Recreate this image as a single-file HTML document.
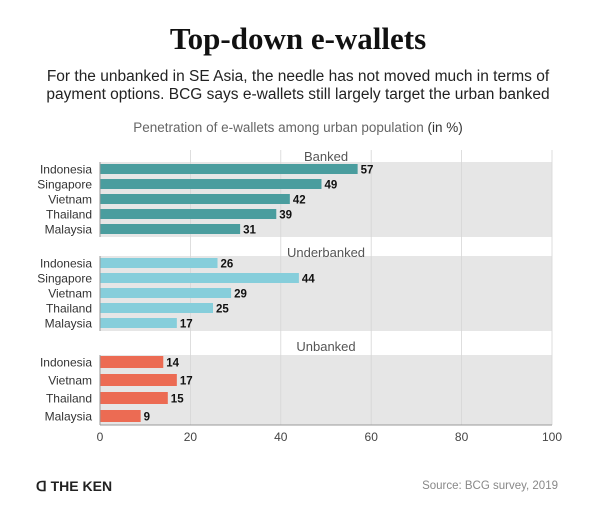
<!DOCTYPE html>
<html><head><meta charset="utf-8"><style>
body{margin:0;width:600px;height:520px;background:#fff;font-family:"Liberation Sans",sans-serif;overflow:hidden}
</style></head><body>
<svg width="600" height="520" id="svg">
<text x="298" y="49" text-anchor="middle" font-family="Liberation Serif" font-weight="bold" font-size="31" fill="#111">Top-down e-wallets</text>
<text x="298" y="81" text-anchor="middle" font-size="15.5" fill="#222">For the unbanked in SE Asia, the needle has not moved much in terms of</text>
<text x="298" y="99" text-anchor="middle" font-size="15.5" fill="#222">payment options. BCG says e-wallets still largely target the urban banked</text>
<text x="298" y="132" text-anchor="middle" font-size="13.5" fill="#666">Penetration of e-wallets among urban population <tspan fill="#333">(in %)</tspan></text>
<g id="plot"></g>
<text x="36" y="491" font-weight="bold" font-size="14" fill="#222">ᗡ THE KEN</text>
<text x="558" y="489" text-anchor="end" font-size="11.5" fill="#888">Source: BCG survey, 2019</text>
</svg>
<script>
const groupNames=["Banked","Underbanked","Unbanked"];
const bankedCountries=["Indonesia","Singapore","Vietnam","Thailand","Malaysia"];
const bankedValues=[57,49,42,39,31];
const underCountries=["Indonesia","Singapore","Vietnam","Thailand","Malaysia"];
const underValues=[26,44,29,25,17];
const unbankedCountries=["Indonesia","Vietnam","Thailand","Malaysia"];
const unbankedValues=[14,17,15,9];
const ticks=[0,20,40,60,80,100];
const groups=[
 {name:groupNames[0],cats:bankedCountries,vals:bankedValues,color:"#4a9d9e",top:162,bottom:237,step:15,h:10,label:157},
 {name:groupNames[1],cats:underCountries,vals:underValues,color:"#86cedb",top:256,bottom:331,step:15,h:10,label:253},
 {name:groupNames[2],cats:unbankedCountries,vals:unbankedValues,color:"#ec6b53",top:355,bottom:425,step:18,h:12,label:347}
];
const ns="http://www.w3.org/2000/svg";
const g=document.getElementById('plot');
const x=v=>100+v*4.52;
function mk(t,a,txt){const e=document.createElementNS(ns,t);for(const k in a)e.setAttribute(k,a[k]);if(txt!==undefined)e.textContent=txt;g.appendChild(e);return e;}
groups.forEach((gr,gi)=>{
 const p=mk('rect',{x:100,y:gr.top,width:x(100)-100,height:gr.bottom-gr.top,fill:"#e6e6e6"});
 
 
});
ticks.slice(1).forEach(t=>{
 const l=mk('line',{x1:x(t),x2:x(t),y1:150,y2:425,stroke:"#d6d6d6","stroke-width":0.8});
 
 
});
groups.forEach(gr=>{
 const gl=mk('text',{x:x(50),y:gr.label+4,"text-anchor":"middle","font-size":13,fill:"#555"},gr.name);
 
 
 const first=gr.top+7;
 gr.cats.forEach((c,i)=>{
  const cy=first+i*gr.step;
  const b=mk('rect',{x:100,y:cy-gr.h/2,width:x(gr.vals[i])-100,height:gr.h,fill:gr.color});
  
  
  const cl=mk('text',{x:92,y:cy+4.5,"text-anchor":"end","font-size":12,fill:"#333"},c);
  
  
  const vl=mk('text',{x:x(gr.vals[i])+3,y:cy+4.5,"font-size":11.5,"font-weight":"bold",fill:"#111"},gr.vals[i]);
  
  
 });
 const ax=mk('line',{x1:100,x2:100,y1:gr.top,y2:gr.bottom,stroke:"#999","stroke-width":1});
 
 
});
const bl=mk('line',{x1:100,x2:x(100),y1:425,y2:425,stroke:"#999","stroke-width":1});


ticks.forEach(t=>{
 const tl=mk('text',{x:x(t),y:441,"text-anchor":"middle","font-size":12,fill:"#444"},t);
 
 
});
</script>
</body></html>
